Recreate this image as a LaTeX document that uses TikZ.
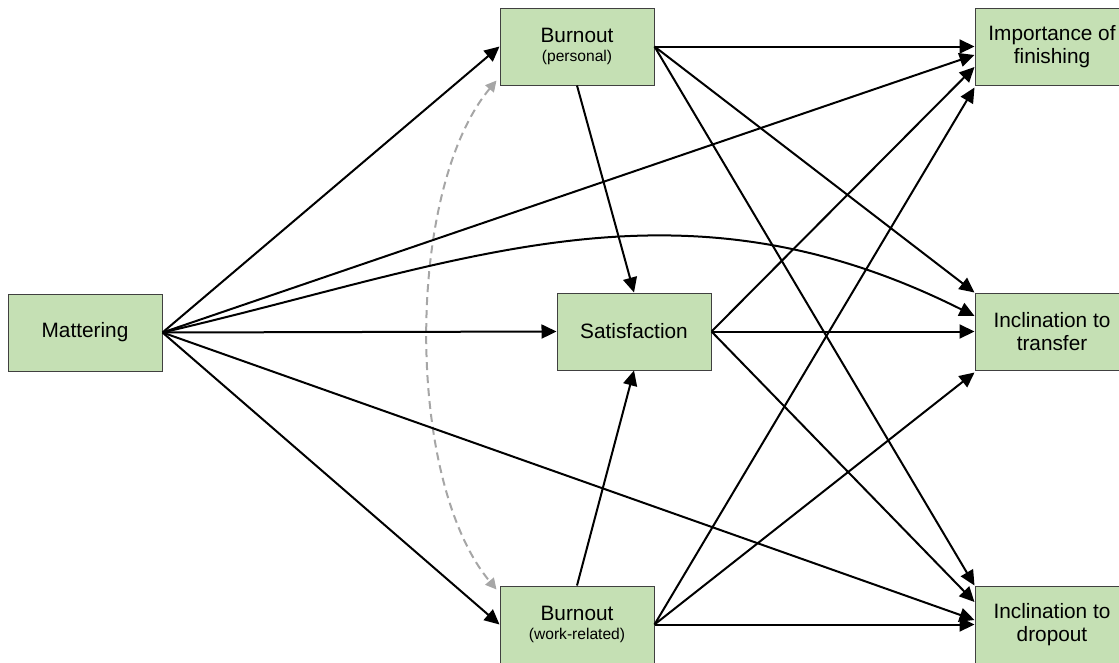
\documentclass[tikz,border=0pt]{standalone}
\usepackage{fontspec}
\setmainfont{Liberation Sans}
\usetikzlibrary{arrows.meta,calc}
\definecolor{boxgreen}{HTML}{C5E0B4}
\definecolor{boxline}{HTML}{404040}
\definecolor{corrgray}{HTML}{A6A6A6}
\begin{document}
\begin{tikzpicture}[x=1pt,y=-1pt,
  box/.style={draw=boxline, line width=1pt, fill=boxgreen, minimum width=154pt, minimum height=77pt, inner sep=0pt, align=center, font=\fontsize{20.8}{23.5}\selectfont},
  conn/.style={line width=2pt, -{Triangle[length=15pt,width=14pt]}},
  corr/.style={draw=corrgray, line width=2pt, dash pattern=on 8pt off 5pt, {Triangle[length=11pt,width=11pt]}-{Triangle[length=11pt,width=11pt]}}]
\useasboundingbox (0,0) rectangle (1119,662);

\node[box] (mat) at (85,332.5) {Mattering};
\node[box] (bp) at (577,46.5) {Burnout\\[-4pt]{\fontsize{15.6}{18}\selectfont (personal)}};
\node[box] (sat) at (634,331.5) {Satisfaction};
\node[box] (bw) at (577,624.5) {Burnout\\[-4pt]{\fontsize{15.6}{18}\selectfont (work-related)}};
\node[box] (imp) at (1052,46.5) {Importance of\\finishing};
\node[box] (tra) at (1052,331.5) {Inclination to\\transfer};
\node[box] (dro) at (1052,624.5) {Inclination to\\dropout};

% correlation
\draw[corr] ($(bp.south west)+(-3,-5)$) .. controls (405,190) and (405,480) .. ($(bw.north west)+(-3,4)$);

% from Mattering
\draw[conn] (mat.east) -- (bp.west);
\draw[conn] (mat.east) -- ($(imp.west)+(0,8.5)$);
\draw[conn] (mat.east) .. controls (462,263) and (675,166) .. ($(tra.west)+(0,-15.5)$);
\draw[conn] (mat.east) -- (sat.west);
\draw[conn] (mat.east) -- ($(dro.west)+(0,-4.5)$);
\draw[conn] (mat.east) -- (bw.west);

% from Burnout (personal)
\draw[conn] (bp.east) -- (imp.west);
\draw[conn] (bp.east) -- (tra.north west);
\draw[conn] (bp.east) -- (dro.north west);
\draw[conn] (bp.south) -- (sat.north);

% from Satisfaction
\draw[conn] (sat.east) -- ($(imp.west)+(0,20.5)$);
\draw[conn] (sat.east) -- (tra.west);
\draw[conn] (sat.east) -- ($(dro.west)+(0,-22.5)$);

% from Burnout (work-related)
\draw[conn] (bw.north) -- (sat.south);
\draw[conn] (bw.east) -- ($(imp.south west)+(0,2)$);
\draw[conn] (bw.east) -- ($(tra.south west)+(0,2)$);
\draw[conn] (bw.east) -- (dro.west);
\end{tikzpicture}
\end{document}
